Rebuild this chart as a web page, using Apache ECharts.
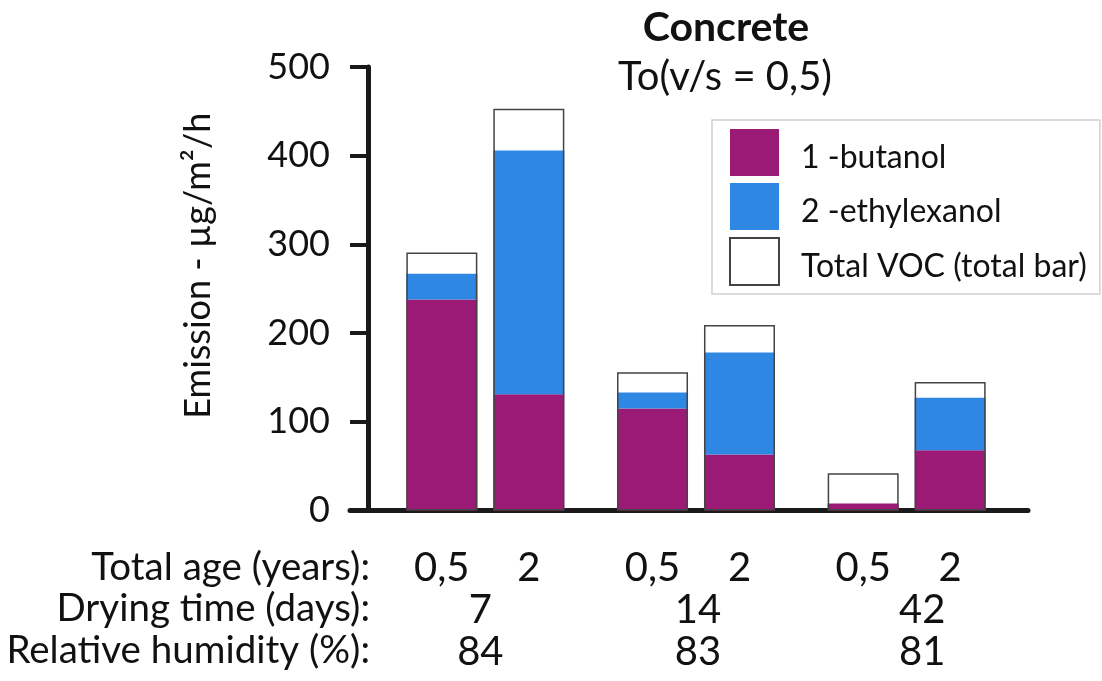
<!DOCTYPE html>
<html>
<head>
<meta charset="utf-8">
<script src="https://cdn.jsdelivr.net/npm/echarts@6/dist/echarts.min.js"></script>
<style>
html,body{margin:0;padding:0;background:#fff;}
#main{width:1102px;height:681px;}
</style>
</head>
<body>
<div id="main"></div>
<script>
// ---- data ----
var groups = ['7 days', '14 days', '42 days'];
var ages = ['0,5', '2'];
var dryingDays = ['7', '14', '42'];
var humidity = ['84', '83', '81'];
var butanolAge05 = [238, 115, 8];
var butanolAge2 = [131, 63, 68];
var ethylAge05 = [29, 18, 0];
var ethylAge2 = [275, 115, 59];
var totalAge05 = [291, 156, 42];
var totalAge2 = [453, 209, 145];
var yTicks = [0, 100, 200, 300, 400, 500];
var rowLabels = ['Total age (years):', 'Drying time (days):', 'Relative humidity (%):'];

var FONT = 'Lato';
var PURPLE = '#9b1a76';
var BLUE = '#2e87e2';
var AXIS = '#1a1a1a';
var TXT = '#111';

var chart = echarts.init(document.getElementById('main'), null, {renderer: 'canvas'});

var barW = 71;
var gap = '22.5%';

function stackSeries(name, data, stack, color) {
  return {
    name: name, type: 'bar', stack: stack, data: data,
    xAxisIndex: 0, yAxisIndex: 0,
    barWidth: barW, barGap: gap,
    itemStyle: {color: color},
    z: 2, silent: true
  };
}
function totalSeries(data) {
  return {
    name: 'Total VOC (total bar)', type: 'bar', data: data,
    xAxisIndex: 1, yAxisIndex: 0,
    barWidth: barW, barGap: gap,
    itemStyle: {color: 'rgba(255,255,255,0)', borderColor: '#444', borderWidth: 1.5},
    z: 3, silent: true
  };
}
function rowText(i, y) {
  return {type: 'text', x: 370, y: y, style: {text: rowLabels[i], font: '38.5px ' + FONT, fill: TXT, textAlign: 'right', textVerticalAlign: 'middle'}};
}
var valStyle = {fontFamily: FONT, fontSize: 40, color: TXT, align: 'center', lineHeight: 42};

var option = {
  backgroundColor: '#fff',
  animation: false,
  textStyle: {fontFamily: FONT},
  graphic: [
    {type: 'text', x: 726, y: 28, style: {text: 'Concrete', font: 'bold 41px ' + FONT, fill: TXT, textAlign: 'center', textVerticalAlign: 'middle'}},
    {type: 'text', x: 725, y: 77, style: {text: 'To(v/s = 0,5)', font: '40px ' + FONT, fill: TXT, textAlign: 'center', textVerticalAlign: 'middle'}},
    rowText(0, 568), rowText(1, 609), rowText(2, 651)
  ],
  legend: {
    orient: 'vertical',
    left: 712, top: 120,
    padding: [9, 13, 8, 17],
    icon: 'rect',
    itemWidth: 49, itemHeight: 47, itemGap: 7,
    borderColor: '#d0d0d0', borderWidth: 1.5,
    data: ['1 -butanol', '2 -ethylexanol', 'Total VOC (total bar)'],
    formatter: '{t|{name}}',
    textStyle: {
      fontFamily: FONT, fontSize: 32, color: TXT, padding: [0, 0, 0, 17],
      rich: {t: {fontFamily: FONT, fontSize: 32, color: TXT, padding: [10, 0, 0, 0]}}
    },
    selectedMode: false
  },
  grid: [
    {left: 380, right: 90, top: 67, bottom: 170.5, containLabel: false},
    {left: 350, right: 74, top: 67, bottom: 170.5, containLabel: false}
  ],
  xAxis: [
    {
      type: 'category', gridIndex: 0, data: groups,
      axisLine: {show: false}, axisTick: {show: false},
      axisLabel: {
        margin: 37, interval: 0,
        formatter: function (v, i) {
          var s = 'c' + i;
          return '{a|' + ages[0] + '}{a|' + ages[1] + '}\n{' + s + '|' + dryingDays[i] + '}\n{' + s + '|' + humidity[i] + '}';
        },
        rich: {
          a: echarts.util.extend({width: 87}, valStyle),
          c0: echarts.util.extend({padding: [0, 10, 0, 0]}, valStyle),
          c1: echarts.util.extend({padding: [0, 0, 0, 4]}, valStyle),
          c2: echarts.util.extend({padding: [0, 0, 0, 31]}, valStyle)
        }
      }
    },
    {
      type: 'category', gridIndex: 0, data: groups, show: false
    },
    {
      type: 'category', gridIndex: 1, data: [''],
      axisLine: {show: true, lineStyle: {color: AXIS, width: 5}},
      axisTick: {show: false}, axisLabel: {show: false}
    }
  ],
  yAxis: [
    {
      type: 'value', gridIndex: 0, min: 0, max: 500, interval: 100,
      offset: 12,
      name: 'Emission - µg/m²/h', nameLocation: 'middle', nameRotate: 90, nameGap: 152,
      nameTextStyle: {fontFamily: FONT, fontSize: 36, color: TXT, padding: [0, 0, 0, 46]},
      axisLine: {show: true, lineStyle: {color: AXIS, width: 5}},
      axisTick: {show: true, inside: false, length: 18, lineStyle: {color: AXIS, width: 4}},
      splitLine: {show: false},
      axisLabel: {
        margin: 38, fontFamily: FONT, fontSize: 36, color: TXT,
        formatter: function (v) { return yTicks.indexOf(v) >= 0 ? String(v) : ''; }
      }
    },
    {type: 'value', gridIndex: 1, min: 0, max: 500, show: false}
  ],
  series: [
    stackSeries('1 -butanol', butanolAge05, 'a', PURPLE),
    stackSeries('2 -ethylexanol', ethylAge05, 'a', BLUE),
    stackSeries('1 -butanol', butanolAge2, 'b', PURPLE),
    stackSeries('2 -ethylexanol', ethylAge2, 'b', BLUE),
    totalSeries(totalAge05),
    totalSeries(totalAge2)
  ]
};
chart.setOption(option);
</script>
</body>
</html>
